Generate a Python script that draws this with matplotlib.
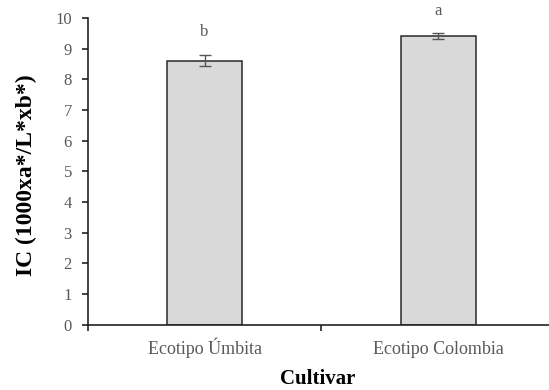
import matplotlib
matplotlib.use("Agg")
import matplotlib.pyplot as plt

categories = ["Ecotipo Úmbita", "Ecotipo Colombia"]
values = [8.6, 9.4]
errors = [0.18, 0.10]
letters = ["b", "a"]
letter_pos = [9.55, 10.23]

plt.rcParams["font.family"] = ["Liberation Serif", "DejaVu Serif"]

fig = plt.figure(figsize=(5.49, 3.9), dpi=100)
ax = fig.add_axes([0.160, 0.167, 0.851, 0.787])

x = [1, 2]
ax.bar(x, values, width=0.32, color="#d9d9d9", edgecolor="#2a2a2a", linewidth=1.1, zorder=2)
ax.errorbar(x, values, yerr=errors, fmt="none", ecolor="#555555", elinewidth=1.0,
            capsize=4, capthick=1.0, zorder=3)
for xi, t, yp in zip(x, letters, letter_pos):
    ax.text(xi, yp, t, ha="center", va="center", fontsize=12, color="#595959", clip_on=False)

ax.set_xlim(0.5, 2.5)
ax.set_ylim(0, 10)
ax.set_yticks(range(0, 11))
ax.set_xticks([0.5, 1.5, 2.5])
ax.set_xticklabels([])
ax.tick_params(axis="x", length=4.5, width=1.2, color="#222222", direction="out")
ax.tick_params(axis="y", length=4.5, width=1.2, color="#222222", direction="out",
               labelsize=12, labelcolor="#595959", pad=7)

# category names, baseline-aligned beneath the axis
for xi, name in zip(x, categories):
    ax.annotate(name, xy=(xi, 0), xycoords=("data", "axes fraction"),
                xytext=(0, -21), textcoords="offset points",
                ha="center", va="baseline", fontsize=13, color="#595959",
                annotation_clip=False)

for s in ["top", "right"]:
    ax.spines[s].set_visible(False)
for s in ["left", "bottom"]:
    ax.spines[s].set_linewidth(1.2)
    ax.spines[s].set_color("#222222")

fig.text(26 / 549, 1 - 175 / 390, "IC (1000xa*/L*xb*)", rotation=90,
         ha="center", va="center", fontsize=17, fontweight="bold")
fig.text(318 / 549, 1 - 384 / 390, "Cultivar", ha="center", va="baseline",
         fontsize=15, fontweight="bold")

fig.savefig("out.png", dpi=100)
